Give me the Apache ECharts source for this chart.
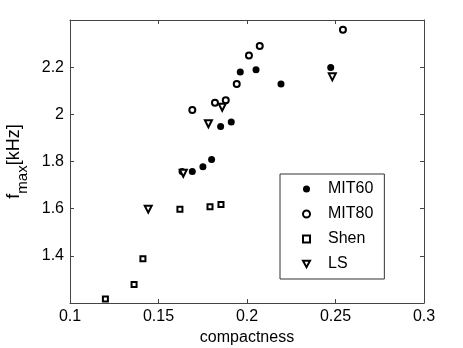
<!DOCTYPE html>
<html><head><meta charset="utf-8">
<script src="https://cdn.jsdelivr.net/npm/echarts@6/dist/echarts.min.js"></script>
<style>html,body{margin:0;padding:0;background:#fff}#c{width:463px;height:348px}</style>
</head><body><div id="c"></div>
<script>
const mit60X = [0.1633, 0.1691, 0.1751, 0.1800, 0.1851, 0.1911, 0.1962, 0.2051, 0.2192, 0.2473];
const mit60Y = [1.758, 1.758, 1.778, 1.808, 1.948, 1.967, 2.180, 2.189, 2.129, 2.199];
const mit80X = [0.1691, 0.1819, 0.1880, 0.1942, 0.2011, 0.2072, 0.2542];
const mit80Y = [2.018, 2.049, 2.060, 2.129, 2.249, 2.290, 2.359];
const shenX = [0.1200, 0.1362, 0.1412, 0.1621, 0.1791, 0.1853];
const shenY = [1.217, 1.278, 1.388, 1.597, 1.608, 1.618];
const lsX = [0.1442, 0.1640, 0.1782, 0.1860, 0.2482];
const lsY = [1.598, 1.750, 1.960, 2.030, 2.159];
const xTicks = [0.1, 0.15, 0.2, 0.25, 0.3];
const yTicks = [1.4, 1.6, 1.8, 2.0, 2.2];

const pairs = (xs, ys) => xs.map((x, i) => [x, ys[i]]);
const font = 'Liberation Sans, Arial, Helvetica, sans-serif';
const axisCol = '#444';
const downTri = 'path://M0,0L10,0L5,9Z';
const chart = echarts.init(document.getElementById('c'));
const baseX = {
  type: 'value', min: 0.1, max: 0.3, interval: 0.05,
  axisLine: {show: true, lineStyle: {color: axisCol, width: 1}},
  axisTick: {show: true, inside: true, length: 4, lineStyle: {color: axisCol}},
  splitLine: {show: false}
};
const baseY = {
  type: 'value', min: 1.2, max: 2.4, interval: 0.2,
  axisLine: {show: true, lineStyle: {color: axisCol, width: 1}},
  axisTick: {show: true, inside: true, length: 4, lineStyle: {color: axisCol}},
  splitLine: {show: false}
};
chart.setOption({
  backgroundColor: '#fff',
  animation: false,
  textStyle: {fontFamily: font},
  grid: {left: 70, right: 39, top: 20, bottom: 45, containLabel: false, outerBoundsMode: 'none'},
  legend: {
    orient: 'vertical', left: 280, top: 174,
    data: ['MIT60', 'MIT80', 'Shen', {name: 'LS', icon: downTri}],
    borderColor: '#333', borderWidth: 1,
    padding: [7, 11, 7, 22],
    itemWidth: 7, itemHeight: 7, itemGap: 9,
    textStyle: {fontSize: 16, color: '#000', fontFamily: font, padding: [0, 0, 0, 13]}
  },
  xAxis: [
    Object.assign({}, baseX, {
      position: 'bottom',
      name: 'compactness', nameLocation: 'middle', nameGap: 25,
      nameTextStyle: {fontSize: 16, color: '#000', fontFamily: font},
      axisLabel: {fontSize: 16, color: '#000', margin: 6, fontFamily: font,
        formatter: v => xTicks.some(t => Math.abs(t - v) < 1e-9) ? String(+v.toFixed(2)) : ''}
    }),
    Object.assign({}, baseX, {position: 'top', axisLabel: {show: false}})
  ],
  yAxis: [
    Object.assign({}, baseY, {
      position: 'left',
      name: 'f{sub|max}[kHz]', nameLocation: 'middle', nameGap: 28, nameRotate: 90,
      nameTextStyle: {fontSize: 18, color: '#000', fontFamily: font,
        rich: {sub: {fontSize: 15, color: '#000', fontFamily: font, verticalAlign: 'bottom', padding: [0, 0, -8, 0]}}},
      axisLabel: {fontSize: 16, color: '#000', margin: 6, fontFamily: font,
        formatter: v => yTicks.some(t => Math.abs(t - v) < 1e-9) ? String(+v.toFixed(1)) : ''}
    }),
    Object.assign({}, baseY, {position: 'right', axisLabel: {show: false}})
  ],
  series: [
    {name: 'MIT60', type: 'scatter', data: pairs(mit60X, mit60Y), symbol: 'circle', symbolSize: 7,
     itemStyle: {color: '#000', borderColor: '#000', borderWidth: 0, opacity: 1}},
    {name: 'MIT80', type: 'scatter', data: pairs(mit80X, mit80Y), symbol: 'circle', symbolSize: 6,
     itemStyle: {color: '#fff', borderColor: '#000', borderWidth: 2, opacity: 1}},
    {name: 'Shen', type: 'scatter', data: pairs(shenX, shenY), symbol: 'rect', symbolSize: 5,
     itemStyle: {color: '#fff', borderColor: '#000', borderWidth: 2, opacity: 1}},
    {name: 'LS', type: 'scatter', data: pairs(lsX, lsY), symbol: 'triangle', symbolRotate: 180, symbolSize: 7,
     itemStyle: {color: '#fff', borderColor: '#000', borderWidth: 2, opacity: 1}}
  ]
});
</script></body></html>
